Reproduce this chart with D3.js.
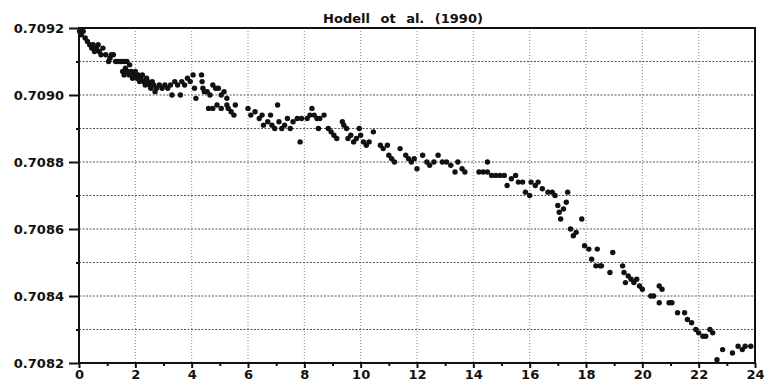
<!DOCTYPE html>
<html>
<head>
<meta charset="utf-8">
<script src="https://cdn.jsdelivr.net/npm/d3@7/dist/d3.min.js"></script>
<style>
  body { margin: 0; background: #fff; }
</style>
</head>
<body>
<div id="chart"></div>
<script>
// --- DATA ---
const TITLE = "Hodell ot al. (1990)";
const X_TICKS = [0, 2, 4, 6, 8, 10, 12, 14, 16, 18, 20, 22, 24];
const X_MINOR = [1, 3, 5, 7, 9, 11, 13, 15, 17, 19, 21, 23];
const Y_TICKS = [0.7082, 0.7084, 0.7086, 0.7088, 0.7090, 0.7092];
const Y_MINOR = [0.7083, 0.7085, 0.7087, 0.7089, 0.7091];

// age (Ma)
const ageMa = [
  0.02, 0.08, 0.15, 0.22, 0.30, 0.38, 0.45, 0.50, 0.55, 0.62, 0.68, 0.72, 0.78, 0.85, 0.95,
  1.05, 1.10, 1.15, 1.22, 1.30, 1.40, 1.50, 1.60, 1.70, 1.80,
  1.55, 1.60, 1.65, 1.72, 1.78, 1.85, 1.90, 1.95, 2.00, 2.05, 2.10, 2.15, 2.20, 2.25, 2.30,
  2.35, 2.40, 2.45, 2.50, 2.55, 2.60, 2.65, 2.70, 2.75, 2.85,
  2.95, 3.05, 3.15, 3.25, 3.30, 3.40, 3.50, 3.60, 3.65, 3.75, 3.85, 3.95, 4.05, 4.10, 4.15,
  4.35, 4.37, 4.40, 4.45, 4.55, 4.65, 4.75, 4.85, 4.95, 5.05, 5.15, 5.25,
  4.60, 4.75, 4.90, 5.05, 5.25, 5.30, 5.40, 5.50, 5.55,
  6.00, 6.10, 6.25, 6.40, 6.50, 6.55, 6.70, 6.80, 6.85, 6.95, 7.05, 7.10, 7.20, 7.30, 7.40,
  7.50, 7.60, 7.75, 7.85, 7.90,
  8.10, 8.20, 8.27, 8.35, 8.45, 8.50, 8.55, 8.70, 8.85, 8.95, 9.05, 9.15, 9.35, 9.40, 9.50,
  9.55, 9.65, 9.75, 9.85, 9.95, 10.00, 10.10, 10.20, 10.30, 10.45,
  10.70, 10.80, 10.95, 11.00, 11.10, 11.20, 11.40, 11.60, 11.70, 11.80, 11.90, 12.00, 12.20,
  12.35, 12.45, 12.60, 12.75, 12.90, 13.05, 13.20, 13.35, 13.45, 13.60, 13.70,
  14.20, 14.35, 14.50, 14.50, 14.65, 14.80, 14.95, 15.10, 15.20, 15.35, 15.50, 15.60, 15.75,
  15.85, 16.00, 16.05, 16.20, 16.30, 16.45, 16.65, 16.80, 16.90, 17.35,
  17.00, 17.05, 17.10, 17.20, 17.30, 17.45, 17.55, 17.65, 17.85, 17.95, 18.10, 18.20, 18.35,
  18.40, 18.50, 18.55, 18.85, 18.95, 19.30, 19.35, 19.40, 19.50, 19.60, 19.70, 19.80, 19.90, 20.00,
  20.30, 20.40, 20.60, 20.70, 20.60, 20.95, 21.05, 21.25, 21.50, 21.60, 21.75, 21.90, 22.00,
  22.15, 22.25, 22.40, 22.50, 22.65, 22.85, 23.20, 23.40, 23.55, 23.65, 23.85
];

// 87Sr/86Sr
const srRatio = [
  0.70919, 0.70918, 0.70919, 0.70917, 0.70916, 0.70915, 0.70914, 0.70915, 0.70913, 0.70914, 0.70915, 0.70913, 0.70912, 0.70914, 0.70912,
  0.70910, 0.70911, 0.70912, 0.70912, 0.70910, 0.70910, 0.70910, 0.70910, 0.70910, 0.70909,
  0.70907, 0.70906, 0.70908, 0.70907, 0.70906, 0.70907, 0.70905, 0.70906, 0.70907, 0.70905, 0.70906, 0.70904, 0.70905, 0.70906, 0.70904,
  0.70903, 0.70905, 0.70904, 0.70903, 0.70902, 0.70904, 0.70903, 0.70901, 0.70902, 0.70903,
  0.70902, 0.70903, 0.70902, 0.70903, 0.70900, 0.70904, 0.70903, 0.70900, 0.70904, 0.70903, 0.70905, 0.70904, 0.70906, 0.70902, 0.70899,
  0.70906, 0.70904, 0.70902, 0.70901, 0.70901, 0.70900, 0.70903, 0.70902, 0.70902, 0.70900, 0.70901, 0.70899,
  0.70896, 0.70896, 0.70897, 0.70896, 0.70897, 0.70896, 0.70895, 0.70894, 0.70897,
  0.70896, 0.70894, 0.70895, 0.70893, 0.70894, 0.70891, 0.70892, 0.70894, 0.70891, 0.70890, 0.70897, 0.70892, 0.70890, 0.70891, 0.70893,
  0.70890, 0.70892, 0.70893, 0.70886, 0.70893,
  0.70893, 0.70894, 0.70896, 0.70894, 0.70893, 0.70890, 0.70893, 0.70894, 0.70890, 0.70889, 0.70888, 0.70887, 0.70892, 0.70891, 0.70890,
  0.70887, 0.70888, 0.70886, 0.70887, 0.70890, 0.70888, 0.70886, 0.70885, 0.70886, 0.70889,
  0.70885, 0.70884, 0.70885, 0.70882, 0.70881, 0.70880, 0.70884, 0.70882, 0.70881, 0.70880, 0.70881, 0.70878, 0.70882,
  0.70880, 0.70879, 0.70880, 0.70882, 0.70880, 0.70880, 0.70879, 0.70877, 0.70880, 0.70878, 0.70877,
  0.70877, 0.70877, 0.70880, 0.70877, 0.70876, 0.70876, 0.70876, 0.70876, 0.70873, 0.70875, 0.70876, 0.70874, 0.70874,
  0.70871, 0.70870, 0.70874, 0.70873, 0.70874, 0.70872, 0.70871, 0.70871, 0.70870, 0.70871,
  0.70867, 0.70865, 0.70863, 0.70866, 0.70868, 0.70860, 0.70858, 0.70859, 0.70863, 0.70855, 0.70854, 0.70851, 0.70849,
  0.70854, 0.70849, 0.70849, 0.70847, 0.70853, 0.70849, 0.70847, 0.70844, 0.70846, 0.70845, 0.70844, 0.70845, 0.70843, 0.70842,
  0.70840, 0.70840, 0.70843, 0.70842, 0.70838, 0.70838, 0.70838, 0.70835, 0.70835, 0.70833, 0.70832, 0.70830, 0.70829,
  0.70828, 0.70828, 0.70830, 0.70829, 0.70821, 0.70824, 0.70823, 0.70825, 0.70824, 0.70825, 0.70825
];

// --- LAYOUT ---
const WIDTH = 764;
const HEIGHT = 385;
const MARGIN = { top: 28, right: 9, bottom: 22, left: 79 };
const FONT = "'DejaVu Sans', Verdana, sans-serif";

const x = d3.scaleLinear().domain([0, 24]).range([MARGIN.left, WIDTH - MARGIN.right]);
const y = d3.scaleLinear().domain([0.7082, 0.7092]).range([HEIGHT - MARGIN.bottom, MARGIN.top]);

const svg = d3.select("#chart")
  .append("svg")
  .attr("width", WIDTH)
  .attr("height", HEIGHT)
  .style("background", "#fff")
  .style("font-family", FONT);

// grid: vertical light dotted, horizontal darker dashed
svg.append("g")
  .selectAll("line")
  .data(X_TICKS.slice(1, -1))
  .join("line")
  .attr("x1", d => x(d)).attr("x2", d => x(d))
  .attr("y1", y.range()[1]).attr("y2", y.range()[0])
  .attr("stroke", "#8a8a8a")
  .attr("stroke-width", 1)
  .attr("stroke-dasharray", "1,2");

svg.append("g")
  .selectAll("line")
  .data(d3.merge([Y_TICKS.slice(1, -1), Y_MINOR]))
  .join("line")
  .attr("x1", x.range()[0]).attr("x2", x.range()[1])
  .attr("y1", d => y(d)).attr("y2", d => y(d))
  .attr("stroke", "#555")
  .attr("stroke-width", 1)
  .attr("stroke-dasharray", "2,1.5");

// points
svg.append("g")
  .selectAll("circle")
  .data(ageMa.map((a, i) => [a, srRatio[i]]))
  .join("circle")
  .attr("cx", d => x(d[0]))
  .attr("cy", d => y(d[1]))
  .attr("r", 2.7)
  .attr("fill", "#111");

// frame
svg.append("rect")
  .attr("x", x.range()[0]).attr("y", y.range()[1])
  .attr("width", x.range()[1] - x.range()[0])
  .attr("height", y.range()[0] - y.range()[1])
  .attr("fill", "none")
  .attr("stroke", "#111")
  .attr("stroke-width", 2);

// y axis
const yAxis = d3.axisLeft(y)
  .tickValues(Y_TICKS)
  .tickFormat(d3.format(".4f"))
  .tickSize(10)
  .tickPadding(5);

svg.append("g")
  .attr("transform", `translate(${MARGIN.left},0)`)
  .call(yAxis)
  .call(g => g.select(".domain").remove())
  .call(g => g.selectAll("line").attr("stroke", "#111").attr("stroke-width", 2))
  .selectAll("text")
  .attr("font-family", FONT)
  .attr("font-size", "13px")
  .attr("font-weight", "bold")
  .attr("fill", "#111");

svg.append("g")
  .attr("transform", `translate(${MARGIN.left},0)`)
  .call(d3.axisLeft(y).tickValues(Y_MINOR).tickSize(3).tickFormat(""))
  .call(g => g.select(".domain").remove())
  .call(g => g.selectAll("line").attr("stroke", "#111").attr("stroke-width", 2));

// x axis
const xAxis = d3.axisBottom(x)
  .tickValues(X_TICKS)
  .tickFormat(d3.format("d"))
  .tickSize(5)
  .tickPadding(2);

svg.append("g")
  .attr("transform", `translate(0,${HEIGHT - MARGIN.bottom})`)
  .call(xAxis)
  .call(g => g.select(".domain").remove())
  .call(g => g.selectAll("line").attr("stroke", "#111").attr("stroke-width", 2))
  .selectAll("text")
  .attr("font-family", FONT)
  .attr("font-size", "13px")
  .attr("font-weight", "bold")
  .attr("fill", "#111");

svg.append("g")
  .attr("transform", `translate(0,${HEIGHT - MARGIN.bottom})`)
  .call(d3.axisBottom(x).tickValues(X_MINOR).tickSize(3).tickFormat(""))
  .call(g => g.select(".domain").remove())
  .call(g => g.selectAll("line").attr("stroke", "#111").attr("stroke-width", 2));

// title
svg.append("text")
  .attr("x", 403)
  .attr("y", 23)
  .attr("text-anchor", "middle")
  .attr("font-size", "13px")
  .attr("font-weight", "bold")
  .attr("word-spacing", "6px")
  .attr("fill", "#111")
  .text(TITLE);
</script>
</body>
</html>
